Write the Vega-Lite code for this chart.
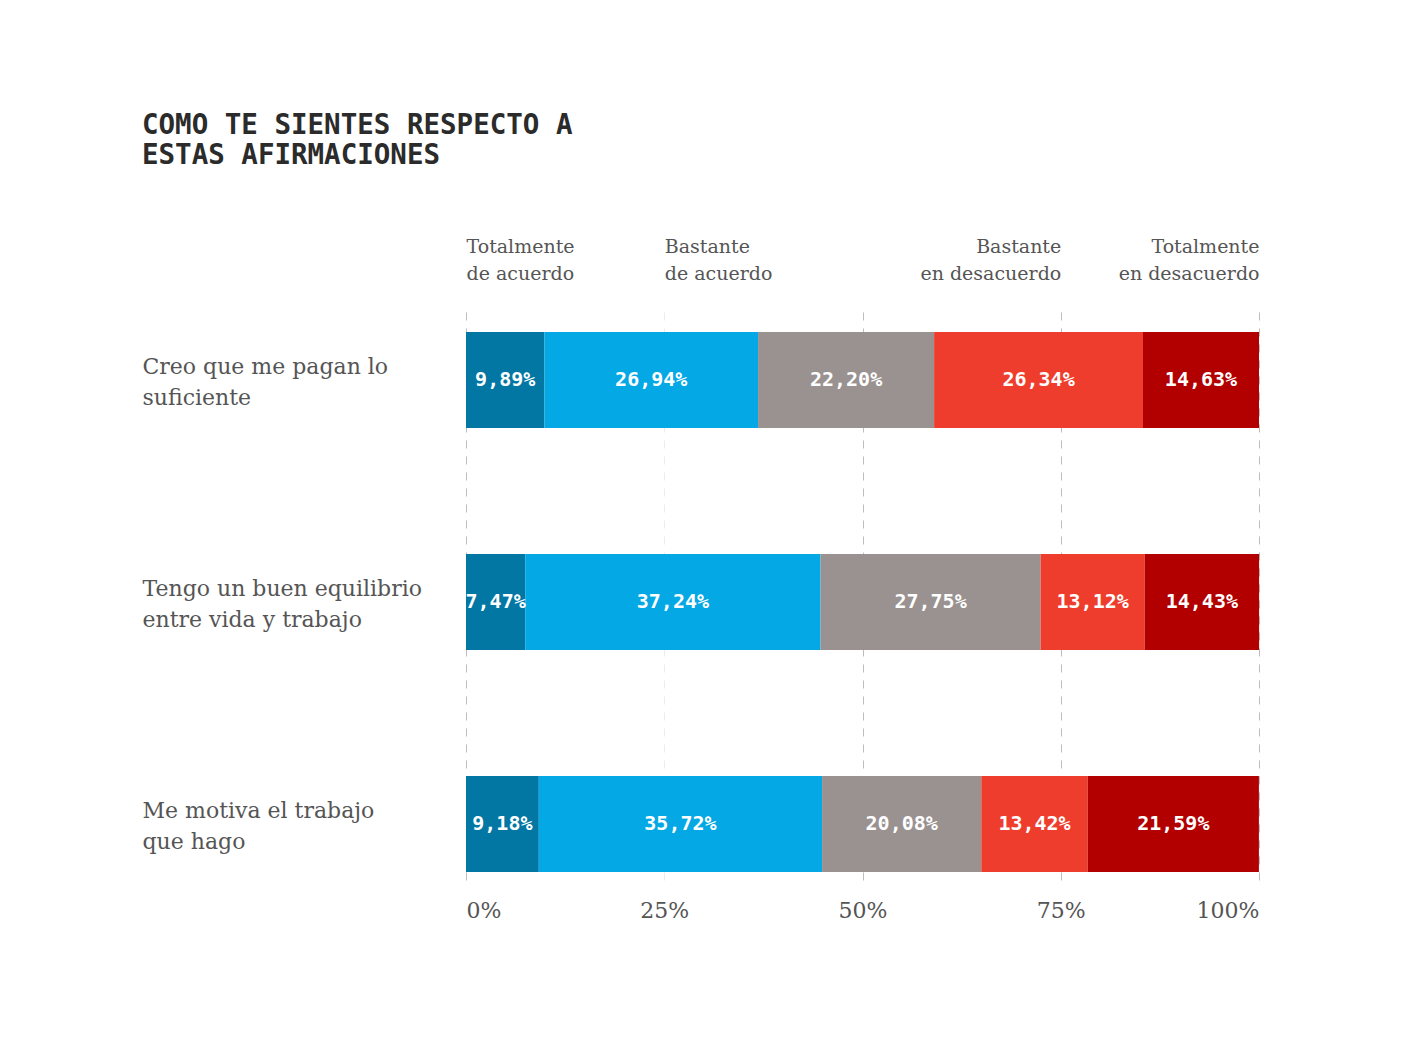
{
  "$schema": "https://vega.github.io/schema/vega-lite/v6.json",
  "width": 793,
  "height": 575,
  "autosize": {"type": "none"},
  "padding": {"left": 466, "top": 305, "right": 142, "bottom": 157},
  "background": "white",
  "config": {
    "view": {"stroke": null},
    "locale": {"number": {"decimal": ",", "thousands": ".", "grouping": [3], "currency": ["", " €"]}}
  },
  "title": {
    "text": ["COMO TE SIENTES RESPECTO A", "ESTAS AFIRMACIONES"],
    "anchor": "start",
    "frame": "bounds",
    "font": "DejaVu Sans Mono",
    "fontSize": 27.5,
    "fontWeight": "bold",
    "color": "#2b2b2b",
    "lineHeight": 30,
    "offset": 68
  },
  "data": {
    "values": [
      {"row": "Creo que me pagan lo|suficiente", "cat": "Totalmente de acuerdo", "o": 1, "v": 0.0989},
      {"row": "Creo que me pagan lo|suficiente", "cat": "Bastante de acuerdo", "o": 2, "v": 0.2694},
      {"row": "Creo que me pagan lo|suficiente", "cat": "Ni de acuerdo ni en desacuerdo", "o": 3, "v": 0.2220},
      {"row": "Creo que me pagan lo|suficiente", "cat": "Bastante en desacuerdo", "o": 4, "v": 0.2634},
      {"row": "Creo que me pagan lo|suficiente", "cat": "Totalmente en desacuerdo", "o": 5, "v": 0.1463},
      {"row": "Tengo un buen equilibrio|entre vida y trabajo", "cat": "Totalmente de acuerdo", "o": 1, "v": 0.0747},
      {"row": "Tengo un buen equilibrio|entre vida y trabajo", "cat": "Bastante de acuerdo", "o": 2, "v": 0.3724},
      {"row": "Tengo un buen equilibrio|entre vida y trabajo", "cat": "Ni de acuerdo ni en desacuerdo", "o": 3, "v": 0.2775},
      {"row": "Tengo un buen equilibrio|entre vida y trabajo", "cat": "Bastante en desacuerdo", "o": 4, "v": 0.1312},
      {"row": "Tengo un buen equilibrio|entre vida y trabajo", "cat": "Totalmente en desacuerdo", "o": 5, "v": 0.1443},
      {"row": "Me motiva el trabajo|que hago", "cat": "Totalmente de acuerdo", "o": 1, "v": 0.0918},
      {"row": "Me motiva el trabajo|que hago", "cat": "Bastante de acuerdo", "o": 2, "v": 0.3572},
      {"row": "Me motiva el trabajo|que hago", "cat": "Ni de acuerdo ni en desacuerdo", "o": 3, "v": 0.2008},
      {"row": "Me motiva el trabajo|que hago", "cat": "Bastante en desacuerdo", "o": 4, "v": 0.1342},
      {"row": "Me motiva el trabajo|que hago", "cat": "Totalmente en desacuerdo", "o": 5, "v": 0.2159}
    ]
  },
  "encoding": {
    "y": {
      "field": "row",
      "type": "nominal",
      "sort": null,
      "scale": {"paddingInner": 0.5676, "paddingOuter": 0.0789},
      "axis": {
        "title": null,
        "orient": "left",
        "domain": false,
        "ticks": false,
        "tickSize": 0,
        "labelAlign": "left",
        "labelBaseline": "middle",
        "labelPadding": 324,
        "labelOffset": -3.5,
        "labelLimit": 400,
        "labelExpr": "split(datum.label, '|')",
        "labelFont": "DejaVu Serif",
        "labelFontSize": 22,
        "labelLineHeight": 31,
        "labelColor": "#555555"
      }
    }
  },
  "layer": [
    {
      "mark": {"type": "bar", "yOffset": 9.5},
      "encoding": {
        "x": {
          "field": "v",
          "type": "quantitative",
          "stack": "zero",
          "scale": {"domain": [0, 1], "nice": false},
          "axis": {
            "title": null,
            "orient": "bottom",
            "values": [0, 0.25, 0.5, 0.75, 1],
            "format": ".0%",
            "domain": false,
            "ticks": false,
            "tickSize": 0,
            "labelFlush": true,
            "labelPadding": 20,
            "labelFont": "DejaVu Serif",
            "labelFontSize": 22,
            "labelColor": "#555555",
            "grid": true,
            "gridDash": [8, 8],
            "gridWidth": 1,
            "gridColor": {"condition": {"test": "datum.value == 0.25", "value": "#ececec"}, "value": "#bdbdbd"}
          }
        },
        "color": {
          "field": "cat",
          "type": "nominal",
          "legend": null,
          "scale": {
            "domain": ["Totalmente de acuerdo", "Bastante de acuerdo", "Ni de acuerdo ni en desacuerdo", "Bastante en desacuerdo", "Totalmente en desacuerdo"],
            "range": ["#0277a4", "#04a8e4", "#9a9191", "#ef3d2d", "#b20000"]
          }
        },
        "order": {"field": "o", "type": "quantitative"}
      }
    },
    {
      "mark": {
        "type": "text",
        "yOffset": 9.5,
        "font": "DejaVu Sans Mono",
        "fontWeight": "bold",
        "fontSize": 20,
        "color": "white",
        "baseline": "middle",
        "align": "center"
      },
      "encoding": {
        "x": {
          "field": "v",
          "type": "quantitative",
          "stack": "zero",
          "bandPosition": 0.5,
          "axis": {
            "title": null,
            "orient": "top",
            "values": [0, 0.25, 0.75, 1],
            "domain": false,
            "ticks": false,
            "tickSize": 0,
            "grid": false,
            "labelOverlap": false,
            "labelLimit": 400,
            "labelPadding": 49,
            "labelBaseline": "bottom",
            "labelAlign": {"condition": {"test": "datum.value <= 0.3", "value": "left"}, "value": "right"},
            "labelExpr": "datum.value == 0 ? ['Totalmente', 'de acuerdo'] : datum.value == 0.25 ? ['Bastante', 'de acuerdo'] : datum.value == 0.75 ? ['Bastante', 'en desacuerdo'] : ['Totalmente', 'en desacuerdo']",
            "labelFont": "DejaVu Serif",
            "labelFontSize": 19,
            "labelLineHeight": 27,
            "labelColor": "#555555"
          }
        },
        "detail": {"field": "cat"},
        "order": {"field": "o", "type": "quantitative"},
        "text": {"field": "v", "type": "quantitative", "format": ".2%"}
      }
    }
  ],
  "resolve": {"axis": {"x": "independent"}}
}
